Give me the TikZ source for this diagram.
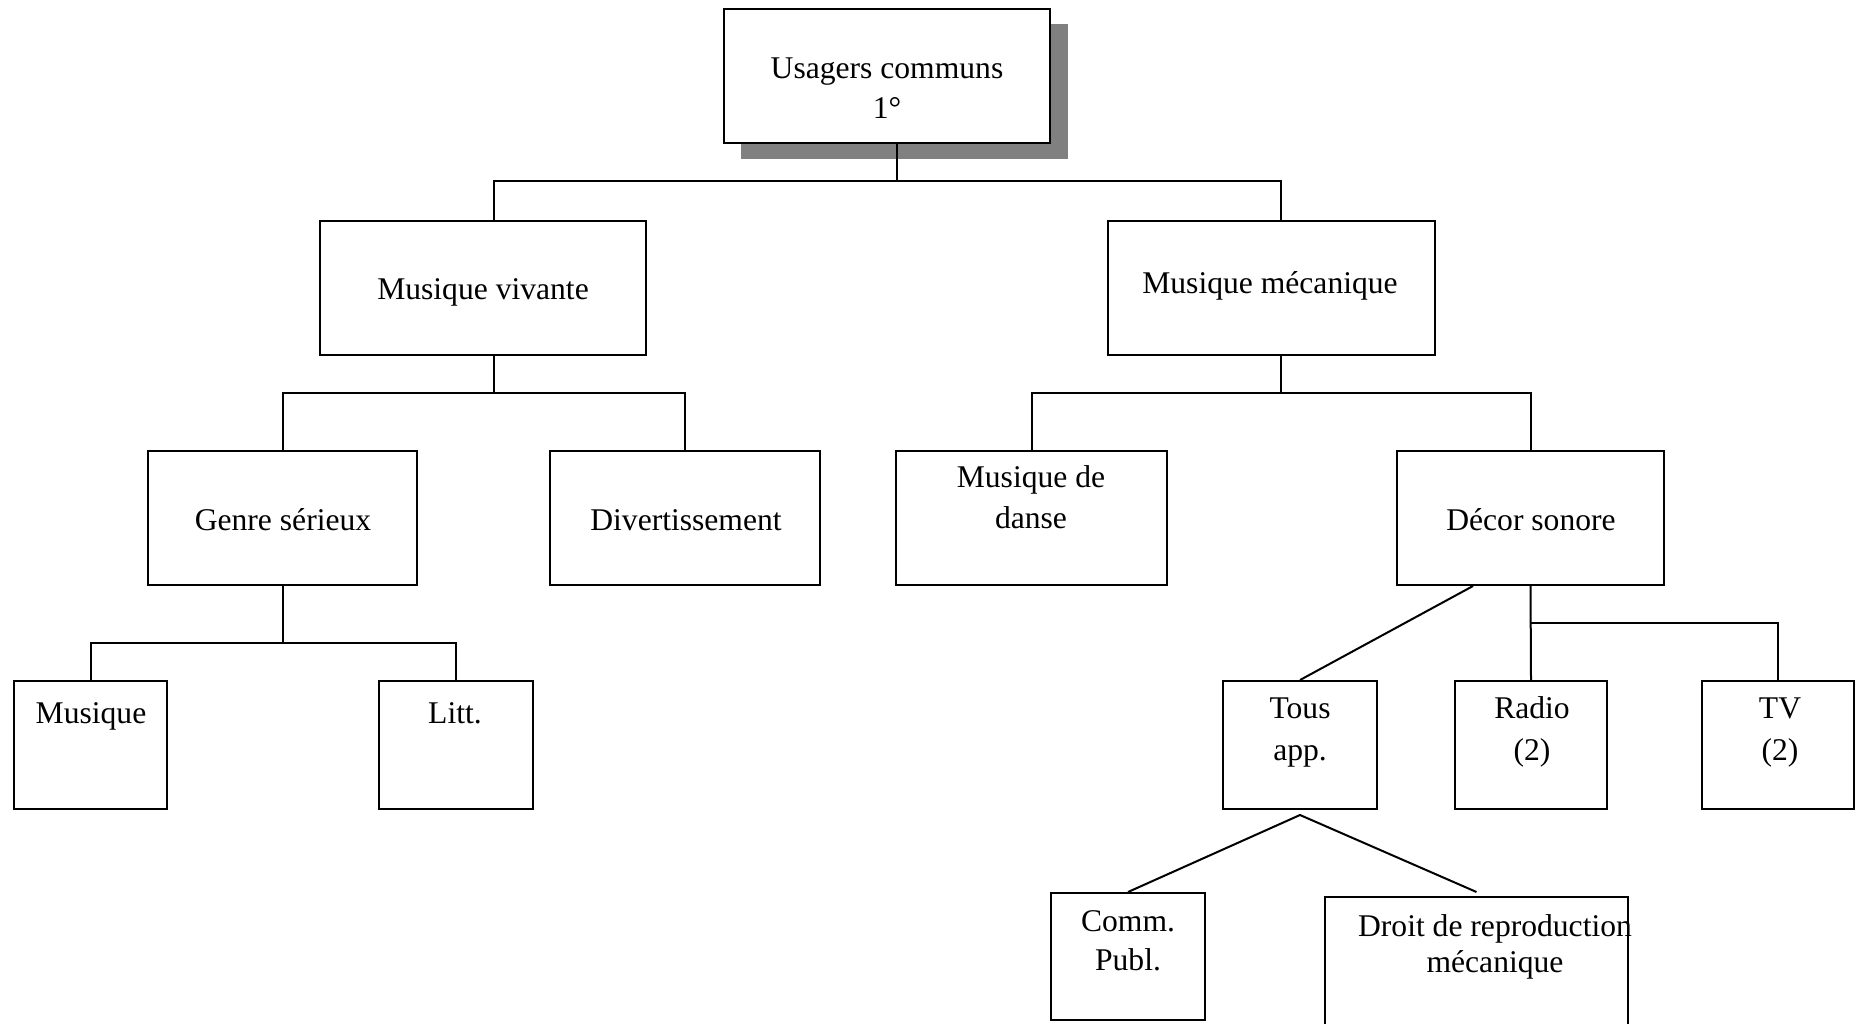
\documentclass[tikz,border=0pt]{standalone}
\usepackage{fontspec}
\setmainfont{Liberation Serif}
\usetikzlibrary{fit}
\definecolor{shadowgray}{RGB}{128,128,128}
\newcommand\twoline[2]{\begin{tabular}[t]{@{}c@{}}#1\\#2\end{tabular}}
\begin{document}
\begin{tikzpicture}[x=0.5pt,y=-0.5pt,
  box/.style={draw, line width=1pt, inner sep=0pt, fill=white},
  txt/.style={anchor=base, inner sep=0pt, font=\fontsize{15.8}{20}\selectfont},
  link/.style={line width=1pt}]
\useasboundingbox (0,0) rectangle (1856,1023);
\clip (0,0) rectangle (1856,1023);
% shadow + top box
\fill[shadowgray] (741,24) rectangle (1068,159);
\node[box, fit={(724,9) (1050,143)}] (top) {};
\node[txt] (toptxt) at (887,78) {\twoline{Usagers communs}{1°}};
% level 1
\node[box, fit={(320,221) (646,355)}] (mv) {};
\node[txt] (mvtxt) at (483,299) {Musique vivante};
\node[box, fit={(1108,221) (1435,355)}] (mm) {};
\node[txt] (mmtxt) at (1270,293) {Musique mécanique};
% level 2
\node[box, fit={(148,451) (417,585)}] (gs) {};
\node[txt] (gstxt) at (283,530) {Genre sérieux};
\node[box, fit={(550,451) (820,585)}] (dv) {};
\node[txt] (dvtxt) at (686,530) {Divertissement};
\node[box, fit={(896,451) (1167,585)}] (md) {};
\node[txt, font=\fontsize{15.8}{20.5}\selectfont] (mdtxt) at (1031,487) {\twoline{Musique de}{danse}};
\node[box, fit={(1397,451) (1664,585)}] (ds) {};
\node[txt] (dstxt) at (1531,530) {Décor sonore};
% level 3
\node[box, fit={(14,681) (167,809)}] (mu) {};
\node[txt] (mutxt) at (91,723) {Musique};
\node[box, fit={(379,681) (533,809)}] (li) {};
\node[txt] (litxt) at (455,723) {Litt.};
\node[box, fit={(1223,681) (1377,809)}] (tous) {};
\node[txt, font=\fontsize{15.8}{21}\selectfont] (toustxt) at (1300,718) {\twoline{Tous}{app.}};
\node[box, fit={(1455,681) (1607,809)}] (ra) {};
\node[txt, font=\fontsize{15.8}{21}\selectfont] (ratxt) at (1532,718) {\twoline{Radio}{(2)}};
\node[box, fit={(1702,681) (1854,809)}] (tv) {};
\node[txt, font=\fontsize{15.8}{21}\selectfont] (tvtxt) at (1780,718) {\twoline{TV}{(2)}};
% level 4
\node[box, fit={(1051,893) (1205,1020)}] (comm) {};
\node[txt, font=\fontsize{15.8}{19.5}\selectfont] (commtxt) at (1128,931) {\twoline{Comm.}{Publ.}};
\node[box, fit={(1325,897) (1628,1060)}] (droit) {};
\node[txt, font=\fontsize{15.8}{18}\selectfont] (droittxt) at (1495,936) {\twoline{Droit de reproduction}{mécanique}};
% connectors
\coordinate (j1) at (897,181);
\draw[link] ([xshift=5pt]top.south) -- (j1);
\draw[link] ([xshift=5.5pt]mv.north) |- (j1) -| ([xshift=4.75pt]mm.north);
\coordinate (j2) at (494,393);
\draw[link] ([xshift=5.5pt]mv.south) -- (j2);
\draw[link] (gs.north) |- (j2) -| (dv.north);
\coordinate (j3) at (1281,393);
\draw[link] ([xshift=4.75pt]mm.south) -- (j3);
\draw[link] (md.north) |- (j3) -| (ds.north);
\coordinate (j4) at (282.5,643);
\draw[link] (gs.south) -- (j4);
\draw[link] (mu.north) |- (j4) -| (li.north);
\draw[link] (ds.south) -- (ra.north);
\coordinate (j5) at (1530.5,623);
\draw[link] (j5) -| (tv.north);
\draw[link] ([xshift=-28.75pt]ds.south) -- (tous.north);
\coordinate (apex) at (1300,815);
\draw[link] (comm.north) -- (apex) -- ([yshift=2pt]droit.north);
\end{tikzpicture}
\end{document}
